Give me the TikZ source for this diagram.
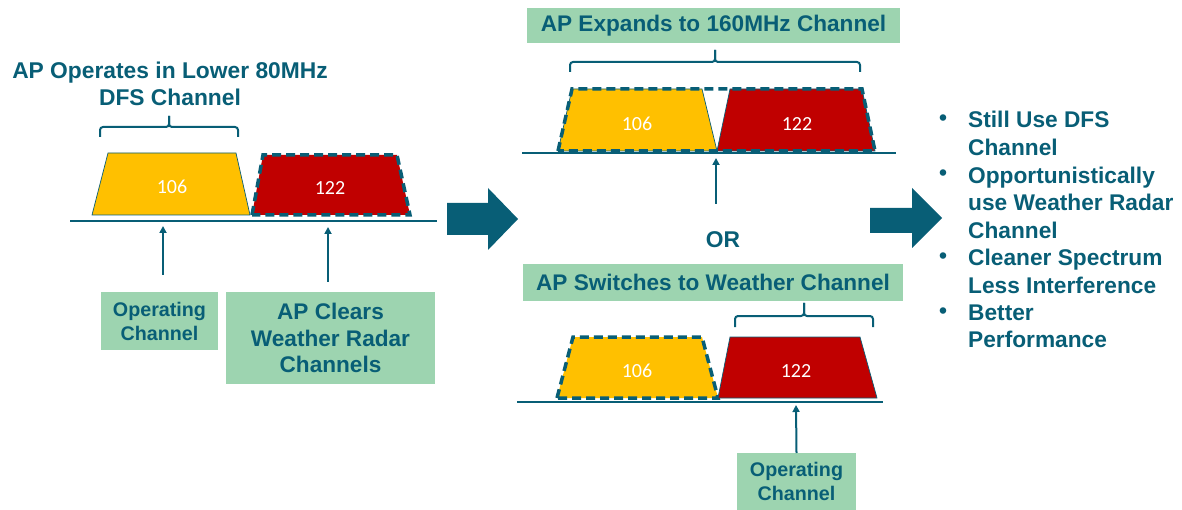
\documentclass[tikz,border=0pt]{standalone}
\usepackage{fontspec}
\setmainfont{Liberation Sans}
\newfontfamily\tf{Liberation Sans Bold}
\newfontfamily\numf{Carlito}
\usetikzlibrary{arrows.meta}
\definecolor{tealc}{RGB}{8,94,118}
\definecolor{greenc}{RGB}{157,212,176}
\definecolor{yelc}{RGB}{255,192,0}
\definecolor{redc}{RGB}{192,0,0}
\tikzset{
  lbl/.style={font=\tf\fontsize{22.8}{27}\selectfont, text=tealc, align=center, inner sep=0pt},
  gbox/.style={fill=greenc, text=tealc, align=center, inner sep=0pt, font=\tf\fontsize{22.6}{26.5}\selectfont},
  sbox/.style={gbox, font=\tf\fontsize{19.7}{24}\selectfont},
  num/.style={font=\numf\fontsize{20}{24}\selectfont, text=white, inner sep=0pt},
  trap/.style={draw=tealc, line width=0.7pt},
  dashedge/.style={draw=tealc, line width=3.5pt, dash pattern=on 9pt off 5pt},
  base/.style={draw=tealc, line width=2pt},
  brace/.style={draw=tealc, line width=2pt, rounded corners=3pt},
  uparrow/.style={draw=tealc, line width=2pt, -{Triangle[length=7pt,width=7pt]}},
  bigarrow/.style={fill=tealc, draw=none},
  bul/.style={font=\tf\fontsize{22.7}{27.5}\selectfont, text=tealc, align=left, inner sep=0pt}
}
\begin{document}
\begin{tikzpicture}[x=1pt,y=-1pt]
\useasboundingbox (0,0) rectangle (1182,510);
% ---------- left panel ----------
\node[lbl] (t1) at (170,83.5) {AP Operates in Lower 80MHz\\DFS Channel};
\draw[brace] (100,137) -- (100,127) -- (169,127) -- (169,116);
\draw[brace] (169,116) -- (169,127) -- (238,127) -- (238,137);
\fill[yelc] (92,215) -- (108,153) -- (236,153) -- (250,215) -- cycle;
\draw[trap] (92,215) -- (108,153) -- (236,153) -- (250,215) -- cycle;
\fill[redc] (252,215) -- (263,155) -- (397,155) -- (410,215) -- cycle;
\draw[dashedge] (252,215) -- (263,155) -- (397,155) -- (410,215) -- cycle;
\node[num] (n1) at (172,187) {106};
\node[num] (n2) at (330,188) {122};
\draw[base] (70,221) -- (437,221);
\coordinate (a1s) at (163,275);
\coordinate (a1e) at (163,226);
\coordinate (a2s) at (328,282);
\coordinate (a2e) at (328,227);
\draw[uparrow] (a1s) -- (a1e);
\draw[uparrow] (a2s) -- (a2e);
\node[sbox, minimum width=117, minimum height=58] (op1) at (159.5,321) {Operating\\Channel};
\node[gbox, minimum width=209, minimum height=92] (clr) at (330.5,338) {AP Clears\\Weather Radar\\Channels};
% big arrow 1
\fill[bigarrow] (447,203) -- (488,203) -- (488,188) -- (518,219) -- (488,250) -- (488,235) -- (447,235) -- cycle;
% ---------- middle top ----------
\node[gbox, minimum width=373, minimum height=35] (exp) at (713.5,25.5) {AP Expands to 160MHz Channel};
\draw[brace] (570,72) -- (570,62) -- (715,62) -- (715,50);
\draw[brace] (715,50) -- (715,62) -- (860,62) -- (860,72);
\fill[yelc] (558,151) -- (572,89) -- (702,89) -- (717,151) -- cycle;
\draw[trap] (558,151) -- (572,89) -- (702,89) -- (717,151) -- cycle;
\fill[redc] (717,151) -- (730,89) -- (862,89) -- (875,151) -- cycle;
\draw[trap] (717,151) -- (730,89) -- (862,89) -- (875,151) -- cycle;
\draw[dashedge] (558,151) -- (572,89) -- (862,89) -- (875,151) -- cycle;
\node[num] (n3) at (637,124) {106};
\node[num] (n4) at (797,124) {122};
\draw[base] (522,153) -- (896,153);
\coordinate (a3s) at (716,204);
\coordinate (a3e) at (716,158);
\draw[uparrow] (a3s) -- (a3e);
\node[lbl] (or) at (723,240) {OR};
% ---------- middle bottom ----------
\node[gbox, minimum width=380, minimum height=37] (sw) at (713,282.5) {AP Switches to Weather Channel};
\draw[brace] (735,327) -- (735,316) -- (804,316) -- (804,303);
\draw[brace] (804,303) -- (804,316) -- (873,316) -- (873,327);
\fill[yelc] (557,398) -- (573,337) -- (702,337) -- (718,398) -- cycle;
\draw[dashedge] (557,398) -- (573,337) -- (702,337) -- (718,398) -- cycle;
\fill[redc] (718,398) -- (730,337) -- (860,337) -- (877,398) -- cycle;
\draw[trap] (718,398) -- (730,337) -- (860,337) -- (877,398) -- cycle;
\node[num] (n5) at (637,371) {106};
\node[num] (n6) at (796,371) {122};
\draw[base] (517,402) -- (883,402);
\node[sbox, minimum width=119, minimum height=57, anchor=north] (op2) at (796.5,453) {Operating\\Channel};
\coordinate (a4e) at (796,405);
\draw[uparrow] (op2.north) -- (a4e);
% big arrow 2
\fill[bigarrow] (870,208) -- (912,208) -- (912,188) -- (942,218) -- (912,248) -- (912,233) -- (870,233) -- cycle;
% ---------- bullets ----------
\node[bul] (b1) at (943,120) {•};
\node[bul] (b2) at (943,175) {•};
\node[bul] (b3) at (943,258) {•};
\node[bul] (b4) at (943,313) {•};
\node[bul, anchor=west] (i1) at (968,133.5) {Still Use DFS\\Channel};
\node[bul, anchor=west] (i2) at (968,202.5) {Opportunistically\\use Weather Radar\\Channel};
\node[bul, anchor=west] (i3) at (968,271.5) {Cleaner Spectrum\\Less Interference};
\node[bul, anchor=west] (i4) at (968,326.5) {Better\\Performance};
\end{tikzpicture}
\end{document}
